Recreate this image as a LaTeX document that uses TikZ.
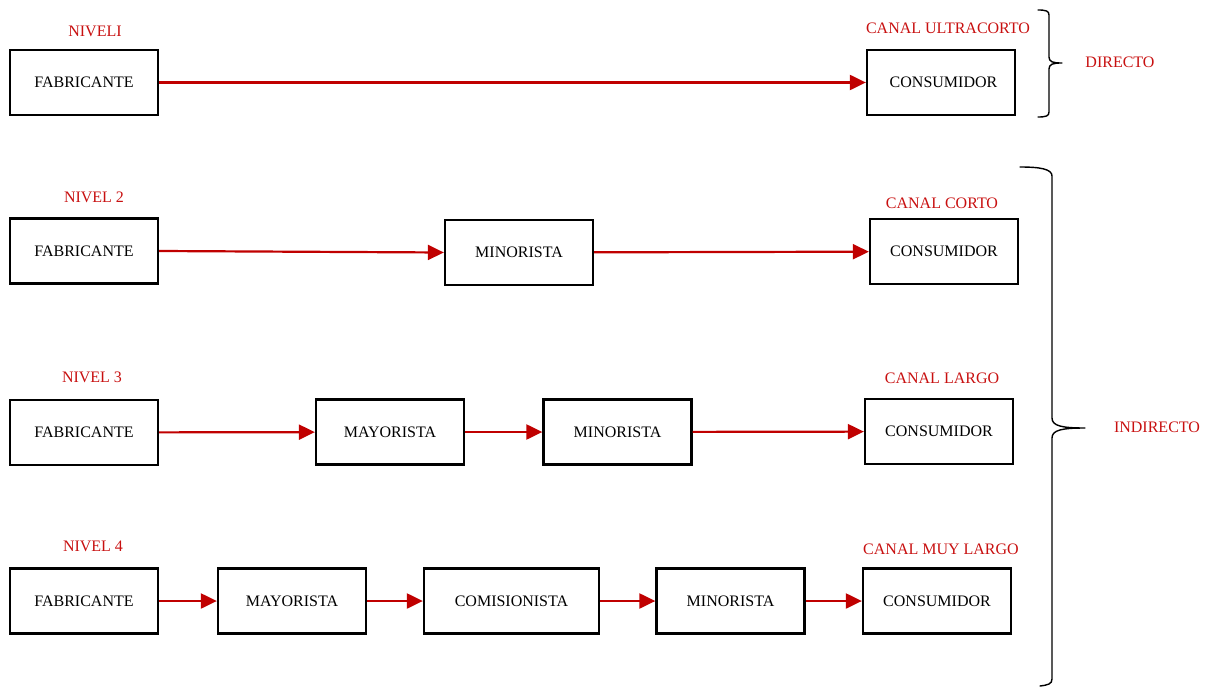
\documentclass[tikz,border=0pt]{standalone}
\usepackage{fontspec}
\setmainfont{Liberation Serif}
\usetikzlibrary{arrows.meta}
\definecolor{flow}{RGB}{192,0,0}
\definecolor{lbl}{RGB}{200,16,16}
\begin{document}
\begin{tikzpicture}[x=1pt,y=-1pt,
  box/.style={draw=black,line width=2.3pt,minimum width=148pt,minimum height=65pt,inner sep=0pt,font=\fontsize{16}{19}\selectfont},
  tag/.style={text=lbl,inner sep=0pt,font=\fontsize{16}{19}\selectfont},
  flowarrow/.style={draw=flow,line width=2.2pt,-{Triangle[length=16pt,width=15pt]}},
  brace/.style={draw=black,line width=1.4pt,line cap=round,line join=round}]
\useasboundingbox (0,0) rectangle (1214,687);

% level 1: direct channel
\node[box] (f1) at (84,82.5) {FABRICANTE};
\node[box] (c1) at (941,82.5) {\hspace{5pt}CONSUMIDOR};
\node[tag] (n1) at (95,31) {NIVELI};
\node[tag] (k1) at (948,28) {CANAL ULTRACORTO};
\draw[flowarrow] (f1) -- (c1);

% level 2: short channel
\node[box] (f2) at (84,251) {FABRICANTE};
\node[box] (m2) at (519,252.5) {MINORISTA};
\node[box] (c2) at (944,251.5) {CONSUMIDOR};
\node[tag] (n2) at (94,197) {NIVEL 2};
\node[tag] (k2) at (942,203) {CANAL CORTO};
\draw[flowarrow] (f2.east) -- (m2.west);
\draw[flowarrow] (m2) -- (c2);

% level 3: long channel
\node[box] (f3) at (84,432.5) {FABRICANTE};
\node[box] (y3) at (390,432) {MAYORISTA};
\node[box] (m3) at (617.5,432) {MINORISTA};
\node[box] (c3) at (939,431.5) {CONSUMIDOR};
\node[tag] (n3) at (92,377) {NIVEL 3};
\node[tag] (k3) at (942,378) {CANAL LARGO};
\draw[flowarrow] (f3) -- (y3);
\draw[flowarrow] (y3) -- (m3);
\draw[flowarrow] (m3) -- (c3);

% level 4: very long channel
\node[box] (f4) at (84,601) {FABRICANTE};
\node[box] (y4) at (292,601) {MAYORISTA};
\node[box,minimum width=175pt] (s4) at (511.5,601) {COMISIONISTA};
\node[box] (m4) at (730.5,601) {MINORISTA};
\node[box] (c4) at (937,601) {CONSUMIDOR};
\node[tag] (n4) at (93,546) {NIVEL 4};
\node[tag] (k4) at (941,549) {CANAL MUY LARGO};
\draw[flowarrow] (f4) -- (y4);
\draw[flowarrow] (y4) -- (s4);
\draw[flowarrow] (s4) -- (m4);
\draw[flowarrow] (m4) -- (c4);

% braces grouping the channels
\coordinate (dtip) at (1062,63);
\draw[brace] (1038,10) .. controls (1046,10) and (1049,11) .. (1049,15)
  -- (1049,57) .. controls (1049,62) and (1053,63) .. (dtip)
  .. controls (1053,63) and (1049,64) .. (1049,69)
  -- (1049,112) .. controls (1049,116) and (1046,117) .. (1038,117);
\node[tag] (dir) at (1120,62) {DIRECTO};

\coordinate (itip) at (1085,428);
\draw[brace] (1020,167) .. controls (1040,167) and (1052,169) .. (1052,176)
  -- (1052,418) .. controls (1052,426) and (1062,428) .. (itip)
  .. controls (1062,428) and (1052,430) .. (1052,438)
  -- (1052,679) .. controls (1052,684) and (1048,685) .. (1040,686);
\node[tag] (ind) at (1157,427) {INDIRECTO};
\end{tikzpicture}
\end{document}
